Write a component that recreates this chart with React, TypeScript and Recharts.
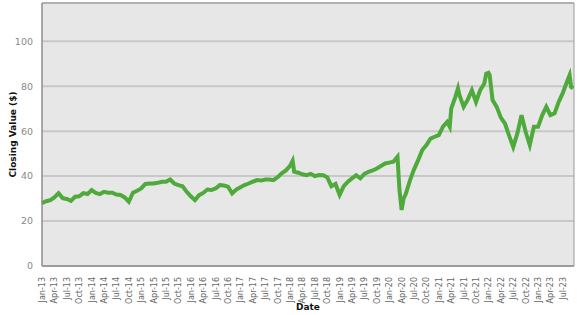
import { LineChart, Line, XAxis, YAxis, CartesianGrid, ReferenceArea } from "recharts";

// closing values, roughly one per month (a few extra around sharp moves)
const dates = [
  "2013-01-01", "2013-02-01", "2013-03-01", "2013-04-01", "2013-05-01", "2013-06-01",
  "2013-07-01", "2013-08-01", "2013-09-01", "2013-10-01", "2013-11-01", "2013-12-01",
  "2014-01-01", "2014-02-01", "2014-03-01", "2014-04-01", "2014-05-01", "2014-06-01",
  "2014-07-01", "2014-08-01", "2014-09-01", "2014-10-01", "2014-11-01", "2014-12-01",
  "2015-01-01", "2015-02-01", "2015-03-01", "2015-04-01", "2015-05-01", "2015-06-01",
  "2015-07-01", "2015-08-01", "2015-09-01", "2015-10-01", "2015-11-01", "2015-12-01",
  "2016-01-01", "2016-02-01", "2016-03-01", "2016-04-01", "2016-05-01", "2016-06-01",
  "2016-07-01", "2016-08-01", "2016-09-01", "2016-10-01", "2016-11-01", "2016-12-01",
  "2017-01-01", "2017-02-01", "2017-03-01", "2017-04-01", "2017-05-01", "2017-06-01",
  "2017-07-01", "2017-08-01", "2017-09-01", "2017-10-01", "2017-11-01", "2017-12-01",
  "2018-01-01", "2018-01-20", "2018-02-01", "2018-03-01", "2018-04-01", "2018-05-01",
  "2018-06-01", "2018-07-01", "2018-08-01", "2018-09-01", "2018-10-01", "2018-11-01",
  "2018-12-01", "2019-01-01", "2019-02-01", "2019-03-01", "2019-04-01", "2019-05-01",
  "2019-06-01", "2019-07-01", "2019-08-01", "2019-09-01", "2019-10-01", "2019-11-01",
  "2019-12-01", "2020-01-01", "2020-02-01", "2020-03-01", "2020-03-15", "2020-04-01",
  "2020-04-15", "2020-05-01", "2020-06-01", "2020-07-01", "2020-08-01", "2020-09-01",
  "2020-10-01", "2020-11-01", "2020-12-01", "2021-01-01", "2021-02-01", "2021-03-01",
  "2021-03-20", "2021-04-01", "2021-05-01", "2021-05-20", "2021-06-01", "2021-07-01",
  "2021-08-01", "2021-09-01", "2021-10-01", "2021-11-01", "2021-12-01", "2021-12-15",
  "2022-01-01", "2022-01-10", "2022-02-01", "2022-03-01", "2022-04-01", "2022-05-01",
  "2022-06-01", "2022-07-01", "2022-08-01", "2022-09-01", "2022-10-01", "2022-11-01",
  "2022-12-01", "2023-01-01", "2023-02-01", "2023-03-01", "2023-04-01", "2023-05-01",
  "2023-06-01", "2023-07-01", "2023-08-01", "2023-08-20", "2023-09-01", "2023-09-15",
];

const closing = [
  28.0, 28.8, 29.3, 30.5, 32.4, 30.2,
  29.8, 29.0, 30.8, 31.0, 32.4, 32.0,
  33.8, 32.5, 32.0, 33.0, 32.6, 32.6,
  31.8, 31.6, 30.5, 28.6, 32.6, 33.5,
  34.5, 36.5, 36.7, 36.7, 37.0, 37.5,
  37.5, 38.5, 36.7, 36.0, 35.5, 33.0,
  31.0, 29.3, 31.5, 32.5, 34.0, 33.8,
  34.5, 36.0, 35.8, 35.3, 32.3, 34.0,
  35.0, 36.0, 36.7, 37.5, 38.2, 38.0,
  38.5, 38.5, 38.2, 39.5, 41.2, 42.5,
  44.5, 46.8, 42.0, 41.5, 40.8, 40.4,
  41.0, 40.0, 40.5, 40.4, 39.5, 35.5,
  36.5, 31.6, 35.5, 37.5, 39.0, 40.4,
  39.0, 41.0, 41.9, 42.5, 43.4, 44.5,
  45.6, 46.0, 46.4, 48.6, 34.0, 24.9,
  30.0, 32.0, 38.0, 43.0, 47.1, 51.6,
  53.8, 56.7, 57.5, 58.2, 62.0, 64.1,
  61.9, 70.0, 75.2, 79.0, 76.0, 70.8,
  74.0, 78.2, 73.0, 78.2, 81.2, 85.6,
  86.0, 84.9, 73.8, 70.8, 66.0, 63.4,
  58.0, 53.0, 59.0, 67.1, 59.7, 53.8,
  61.9, 61.9, 67.0, 70.8, 67.1, 67.9,
  73.0, 77.0, 82.0, 84.9, 79.7, 79.0,
];

const monthNames = ["Jan", "Feb", "Mar", "Apr", "May", "Jun", "Jul", "Aug", "Sep", "Oct", "Nov", "Dec"];
const tickMonths = Array.from({ length: 43 }, (_, i) => i * 3);

const toMonthIndex = (d: string) => {
  const [y, m, day] = d.split("-").map(Number);
  return (y - 2013) * 12 + (m - 1) + (day - 1) / 30;
};

const data = dates.map((d, i) => ({ t: toMonthIndex(d), value: closing[i] }));

const formatTick = (t: number) => {
  const y = 13 + Math.floor(t / 12);
  return `${monthNames[t % 12]}-${y}`;
};

const XTick = ({ x, y, payload }: any) => (
  <text
    x={x}
    y={y}
    transform={`rotate(-90, ${x}, ${y})`}
    textAnchor="end"
    dy={3}
    dx={-3}
    fill="#666"
    fontSize={8}
    fontFamily="DejaVu Sans"
  >
    {formatTick(payload.value)}
  </text>
);

const App = () => {
  return (
    <div style={{ position: "absolute", left: 0, top: 0, background: "#fff" }}>
      <LineChart width={577} height={315} data={data} margin={{ top: 3, right: 3, bottom: 0, left: 0 }}>
        <CartesianGrid vertical={false} stroke="#c8c8c8" strokeWidth={2} fill="#e8e7e8" />
        <XAxis
          dataKey="t"
          type="number"
          domain={[0, 128.7]}
          ticks={tickMonths}
          interval={0}
          height={49}
          tick={<XTick />}
          tickLine={false}
          axisLine={{ stroke: "#888" }}
          label={{ value: "Date", position: "insideBottom", offset: 5, fill: "#111", fontSize: 9, fontWeight: "bold", fontFamily: "DejaVu Sans" }}
        />
        <YAxis
          type="number"
          domain={[0, 117]}
          ticks={[0, 20, 40, 60, 80, 100]}
          width={42}
          tickLine={false}
          axisLine={{ stroke: "#888" }}
          tick={{ fill: "#888", fontSize: 9.5, fontFamily: "DejaVu Sans" }}
          tickMargin={3}
          label={{ value: "Closing Value ($)", angle: -90, position: "insideLeft", offset: 13, fill: "#111", fontSize: 9, fontWeight: "bold", fontFamily: "DejaVu Sans", style: { textAnchor: "middle" } }}
        />
        <ReferenceArea x1={0} x2={128.7} y1={0} y2={117} fill="none" stroke="#999" strokeWidth={1} />
        <Line
          type="linear"
          dataKey="value"
          stroke="#4daa3b"
          strokeWidth={4}
          dot={false}
          isAnimationActive={false}
        />
      </LineChart>
    </div>
  );
};

export default App;
